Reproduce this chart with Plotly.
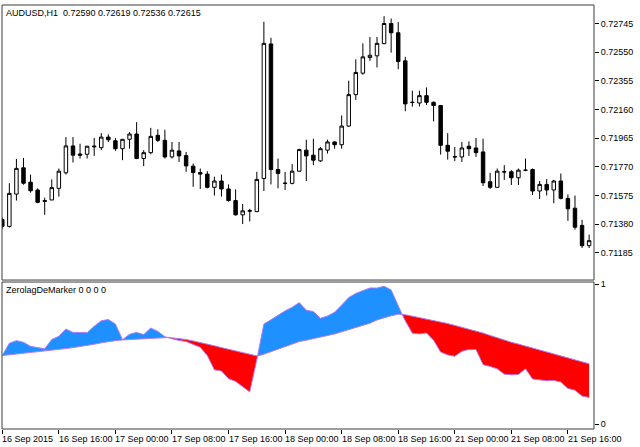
import plotly.graph_objects as go

# ---------------- data ----------------
tick_labels = ["16 Sep 2015", "16 Sep 16:00", "17 Sep 00:00", "17 Sep 08:00", "17 Sep 16:00",
               "18 Sep 00:00", "18 Sep 08:00", "18 Sep 16:00", "21 Sep 00:00", "21 Sep 08:00",
               "21 Sep 16:00"]
tick_bars = [0, 8, 16, 24, 32, 40, 48, 56, 64, 72, 80]

opens = [0.71411, 0.71364, 0.71584, 0.71763, 0.71665, 0.71612, 0.71540, 0.71544, 0.71623, 0.71729,
         0.71912, 0.71857, 0.71855, 0.71905, 0.71900, 0.71972, 0.71947, 0.71893, 0.71957, 0.71993,
         0.71826, 0.71866, 0.71984, 0.71950, 0.71837, 0.71878, 0.71846, 0.71774, 0.71731, 0.71720,
         0.71630, 0.71673, 0.71619, 0.71540, 0.71443, 0.71467, 0.71465, 0.71690, 0.72606, 0.71751,
         0.71659, 0.71657, 0.71740, 0.71883, 0.71849, 0.71810, 0.71883, 0.71939, 0.71920, 0.72047,
         0.72261, 0.72407, 0.72513, 0.72525, 0.72608, 0.72745, 0.72682, 0.72491, 0.72207, 0.72204,
         0.72254, 0.72209, 0.72187, 0.71916, 0.71839, 0.71837, 0.71910, 0.71898, 0.71871, 0.71668,
         0.71630, 0.71734, 0.71736, 0.71695, 0.71747, 0.71751, 0.71605, 0.71650, 0.71612, 0.71673,
         0.71555, 0.71488, 0.71371, 0.71233]
highs = [0.71425, 0.71658, 0.71824, 0.71830, 0.71717, 0.71623, 0.71560, 0.71684, 0.71758, 0.71972,
         0.71972, 0.71927, 0.71912, 0.71966, 0.71999, 0.71991, 0.71966, 0.71959, 0.72006, 0.72074,
         0.71883, 0.72035, 0.72025, 0.72022, 0.71939, 0.71939, 0.71871, 0.71792, 0.71758, 0.71740,
         0.71702, 0.71717, 0.71650, 0.71616, 0.71517, 0.71484, 0.71736, 0.72757, 0.72648, 0.71826,
         0.71736, 0.71788, 0.71893, 0.71954, 0.71961, 0.71905, 0.71954, 0.71943, 0.72119, 0.72356,
         0.72502, 0.72610, 0.72653, 0.72653, 0.72795, 0.72779, 0.72755, 0.72518, 0.72288, 0.72288,
         0.72310, 0.72214, 0.72191, 0.71999, 0.71905, 0.71939, 0.71943, 0.71966, 0.71961, 0.71729,
         0.71758, 0.71781, 0.71747, 0.71758, 0.71826, 0.71758, 0.71673, 0.71686, 0.71680, 0.71724,
         0.71582, 0.71574, 0.71409, 0.71308]
lows = [0.71350, 0.71357, 0.71540, 0.71648, 0.71594, 0.71522, 0.71443, 0.71543, 0.71567, 0.71717,
        0.71799, 0.71826, 0.71826, 0.71844, 0.71883, 0.71939, 0.71878, 0.71815, 0.71893, 0.71822,
        0.71774, 0.71855, 0.71939, 0.71826, 0.71826, 0.71803, 0.71736, 0.71634, 0.71619, 0.71623,
        0.71574, 0.71567, 0.71533, 0.71438, 0.71380, 0.71398, 0.71461, 0.71605, 0.71650, 0.71623,
        0.71612, 0.71650, 0.71736, 0.71673, 0.71781, 0.71803, 0.71860, 0.71893, 0.71893, 0.72043,
        0.72225, 0.72396, 0.72491, 0.72446, 0.72604, 0.72547, 0.72434, 0.72148, 0.72180, 0.72180,
        0.72191, 0.72079, 0.71853, 0.71819, 0.71808, 0.71803, 0.71844, 0.71837, 0.71639, 0.71619,
        0.71628, 0.71680, 0.71646, 0.71646, 0.71740, 0.71578, 0.71551, 0.71574, 0.71522, 0.71548,
        0.71402, 0.71342, 0.71217, 0.71217]
closes = [0.71364, 0.71589, 0.71759, 0.71658, 0.71607, 0.71528, 0.71535, 0.71628, 0.71740, 0.71912,
          0.71849, 0.71849, 0.71910, 0.71910, 0.71972, 0.71954, 0.71893, 0.71957, 0.71993, 0.71826,
          0.71866, 0.71977, 0.71950, 0.71837, 0.71883, 0.71844, 0.71776, 0.71731, 0.71720, 0.71630,
          0.71673, 0.71619, 0.71540, 0.71443, 0.71470, 0.71472, 0.71684, 0.72610, 0.71751, 0.71724,
          0.71657, 0.71740, 0.71887, 0.71844, 0.71815, 0.71893, 0.71939, 0.71920, 0.72047, 0.72261,
          0.72412, 0.72518, 0.72529, 0.72610, 0.72745, 0.72682, 0.72486, 0.72198, 0.72209, 0.72254,
          0.72209, 0.72187, 0.71916, 0.71876, 0.71837, 0.71898, 0.71893, 0.71866, 0.71661, 0.71630,
          0.71740, 0.71736, 0.71695, 0.71747, 0.71746, 0.71605, 0.71650, 0.71612, 0.71673, 0.71555,
          0.71484, 0.71359, 0.71233, 0.71267]

fast = [0.490, 0.578, 0.597, 0.585, 0.556, 0.549, 0.538, 0.605, 0.628, 0.680,
        0.656, 0.655, 0.654, 0.700, 0.739, 0.748, 0.716, 0.604, 0.642, 0.656,
        0.640, 0.687, 0.663, 0.625, 0.609, 0.598, 0.590, 0.570, 0.549, 0.490,
        0.388, 0.379, 0.325, 0.305, 0.268, 0.230, 0.460, 0.716, 0.745, 0.780,
        0.810, 0.835, 0.869, 0.815, 0.805, 0.757, 0.773, 0.800, 0.850, 0.905,
        0.935, 0.955, 0.974, 0.973, 0.986, 0.960, 0.840, 0.739, 0.650, 0.645,
        0.652, 0.600, 0.515, 0.495, 0.485, 0.521, 0.533, 0.533, 0.425, 0.412,
        0.395, 0.357, 0.352, 0.355, 0.396, 0.322, 0.318, 0.310, 0.312, 0.300,
        0.255, 0.242, 0.200, 0.190]
slow = [0.490, 0.495, 0.500, 0.505, 0.510, 0.515, 0.521, 0.527, 0.533, 0.540,
        0.547, 0.554, 0.561, 0.571, 0.581, 0.590, 0.597, 0.602, 0.605, 0.608,
        0.611, 0.614, 0.617, 0.620, 0.617, 0.612, 0.605, 0.595, 0.585, 0.572,
        0.560, 0.547, 0.535, 0.523, 0.510, 0.497, 0.485, 0.500, 0.518, 0.536,
        0.554, 0.572, 0.590, 0.600, 0.610, 0.620, 0.632, 0.645, 0.660, 0.675,
        0.690, 0.705, 0.722, 0.745, 0.762, 0.775, 0.786, 0.782, 0.772, 0.762,
        0.752, 0.742, 0.731, 0.719, 0.706, 0.693, 0.680, 0.667, 0.651, 0.634,
        0.617, 0.600, 0.585, 0.572, 0.558, 0.545, 0.531, 0.518, 0.505, 0.492,
        0.477, 0.462, 0.447, 0.431]

price_ticks = [0.72745, 0.72550, 0.72355, 0.72160, 0.71965, 0.71770, 0.71575, 0.71380, 0.71185]
ind_ticks = [0, 1]

title_text = "AUDUSD,H1\u00a0\u00a00.72590 0.72619 0.72536 0.72615"
ind_title = "ZerolagDeMarker 0 0 0 0"

# ---------------- build ----------------
FONT = "Liberation Sans"
n = len(closes)
bars = list(range(n))

# insert crossing points so the two-colour fill switches cleanly
xs, fs, ss = [], [], []
for i in range(n):
    xs.append(bars[i]); fs.append(fast[i]); ss.append(slow[i])
    if i < n - 1:
        d0 = fast[i] - slow[i]
        d1 = fast[i + 1] - slow[i + 1]
        if d0 * d1 < 0:
            t = d0 / (d0 - d1)
            vc = slow[i] + t * (slow[i + 1] - slow[i])
            xs.append(bars[i] + t); fs.append(vc); ss.append(vc)
upper = [max(a, b) for a, b in zip(fs, ss)]
lower = [min(a, b) for a, b in zip(fs, ss)]

fig = go.Figure()

fig.add_trace(go.Candlestick(
    x=bars, open=opens, high=highs, low=lows, close=closes,
    increasing=dict(fillcolor="white", line=dict(color="black", width=1)),
    decreasing=dict(fillcolor="black", line=dict(color="black", width=1)),
    whiskerwidth=0, xaxis="x", yaxis="y", showlegend=False, hoverinfo="skip",
))

fig.add_trace(go.Scatter(x=xs, y=ss, mode="lines", line=dict(width=0), yaxis="y2",
                         showlegend=False, hoverinfo="skip"))
fig.add_trace(go.Scatter(x=xs, y=upper, mode="lines", line=dict(width=0), fill="tonexty",
                         fillcolor="#1E90FF", yaxis="y2", showlegend=False, hoverinfo="skip"))
fig.add_trace(go.Scatter(x=xs, y=ss, mode="lines", line=dict(width=0), yaxis="y2",
                         showlegend=False, hoverinfo="skip"))
fig.add_trace(go.Scatter(x=xs, y=lower, mode="lines", line=dict(width=0), fill="tonexty",
                         fillcolor="#FF0000", yaxis="y2", showlegend=False, hoverinfo="skip"))
fig.add_trace(go.Scatter(x=xs, y=ss, mode="lines", line=dict(width=1, color="#B07CF5"),
                         yaxis="y2", showlegend=False, hoverinfo="skip"))
fig.add_trace(go.Scatter(x=xs, y=fs, mode="lines", line=dict(width=1, color="#B07CF5"),
                         yaxis="y2", showlegend=False, hoverinfo="skip"))

W, H = 640, 447
ml, mr, mt, mb = 2, 46, 2, 18
ph = H - mt - mb
top_lo = (H - mb - 279) / ph
bot_hi = (H - mb - 281) / ph

fig.update_layout(
    width=W, height=H,
    margin=dict(l=ml, r=mr, t=mt, b=mb, pad=0),
    paper_bgcolor="white", plot_bgcolor="white",
    font=dict(family=FONT, size=9, color="black"),
    showlegend=False,
    xaxis=dict(range=[-0.04, 83.69], anchor="y2", rangeslider=dict(visible=False),
               showgrid=False, zeroline=False, showline=False,
               tickmode="array", tickvals=tick_bars, ticktext=[""] * len(tick_bars),
               ticks="outside", ticklen=4, tickcolor="black", tickwidth=1),
    yaxis=dict(domain=[top_lo, 1], range=[0.70999, 0.72871], side="right",
               showgrid=False, zeroline=False, showline=False,
               tickmode="array", tickvals=price_ticks,
               ticktext=[f"{v:.5f}" for v in price_ticks],
               ticks="outside", ticklen=4, tickcolor="black", tickwidth=1,
               tickfont=dict(family=FONT, size=9)),
    yaxis2=dict(domain=[0, bot_hi], range=[-0.0355, 1.0163], side="right",
                showgrid=False, zeroline=False, showline=False,
                tickmode="array", tickvals=ind_ticks, ticktext=[str(v) for v in ind_ticks],
                ticks="outside", ticklen=4, tickcolor="black", tickwidth=1,
                tickfont=dict(family=FONT, size=9)),
)

border = "#3c3c3c"
fig.add_shape(type="rect", xref="paper", yref="paper", x0=0, x1=1, y0=top_lo, y1=1,
              line=dict(color=border, width=1), fillcolor="rgba(0,0,0,0)", layer="above")
fig.add_shape(type="rect", xref="paper", yref="paper", x0=0, x1=1, y0=0, y1=bot_hi,
              line=dict(color=border, width=1), fillcolor="rgba(0,0,0,0)", layer="above")

for b, lab in zip(tick_bars, tick_labels):
    fig.add_annotation(x=b, xref="x", y=0, yref="paper", text=lab, showarrow=False,
                       xanchor="left", yanchor="top", yshift=-3, xshift=-2,
                       font=dict(family=FONT, size=9, color="black"))

fig.add_annotation(x=0, xref="paper", y=1, yref="paper", text=title_text, showarrow=False,
                   xanchor="left", yanchor="top", xshift=2, yshift=-1,
                   font=dict(family=FONT, size=9, color="black"))
fig.add_annotation(x=0, xref="paper", y=bot_hi, yref="paper", text=ind_title, showarrow=False,
                   xanchor="left", yanchor="top", xshift=2, yshift=-1,
                   font=dict(family=FONT, size=9, color="black"))

fig.write_html("out.html", config={"displayModeBar": False},
               post_script="document.body.style.margin='0';document.body.style.overflow='hidden';")
